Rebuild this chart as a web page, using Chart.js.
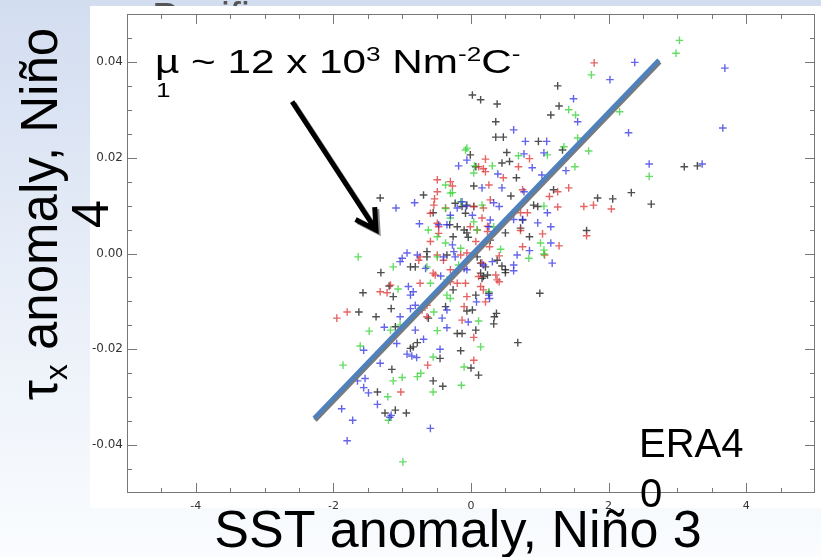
<!DOCTYPE html>
<html>
<head>
<meta charset="utf-8">
<script src="https://cdn.jsdelivr.net/npm/chart.js@4.4.0/dist/chart.umd.min.js"></script>
<style>
  html, body { margin: 0; padding: 0; background: #fff; }
</style>
</head>
<body>
<canvas id="chart" width="821" height="557"></canvas>
<script>
// axis ticks
const xTicks = [-4, -2, 0, 2, 4];
const yTicks = [-0.04, -0.02, 0.00, 0.02, 0.04];

// [SST anomaly, tau_x anomaly] pairs, one list per colour
const blackPts = [
  [0.02,0.0331],[0.14,0.0321],[0.38,0.0312],[0.36,0.0275],[0.36,0.0243],[0.47,0.0243],[-0.01,0.0206],[0.04,0.0141],
  [-1.32,0.0116],[-0.69,0.0122],[-0.55,0.0085],[-0.13,0.0098],[0.04,0.0098],[-0.20,0.0056],[-0.06,0.0043],[-0.04,0.0034],
  [-0.26,0.0035],[-0.35,-0.0003],[1.26,0.0350],[1.28,0.0308],[1.16,0.0289],[0.98,0.0234],[1.33,0.0216],[0.52,0.0211],
  [0.45,0.0189],[0.56,0.0192],[3.10,0.0181],[3.29,0.0183],[0.66,0.0158],[0.58,0.0120],[1.20,0.0133],[1.84,0.0116],
  [2.06,0.0114],[2.33,0.0127],[2.62,0.0103],[0.91,0.0101],[0.97,0.0098],[0.72,0.0053],[0.85,0.0035],[1.68,0.0048],
  [0.50,0.0043],[-0.88,-0.0028],[-0.81,-0.0028],[-0.64,-0.0007],[-1.31,-0.0040],[-1.57,-0.0082],[-1.19,-0.0068],[-1.13,-0.0090],
  [-0.26,-0.0076],[0.14,-0.0041],[0.24,-0.0045],[0.21,-0.0028],[-1.63,-0.0122],[-1.38,-0.0132],[-1.16,-0.0115],[-0.62,-0.0135],
  [-0.06,-0.0120],[0.02,-0.0118],[0.34,-0.0132],[0.33,-0.0147],[-1.10,-0.0153],[-0.20,-0.0167],[-0.13,-0.0167],[0.07,-0.0160],
  [-0.78,-0.0186],[-0.84,-0.0195],[-0.88,-0.0198],[-0.45,-0.0219],[-0.15,-0.0203],[-1.15,-0.0242],[-0.55,-0.0266],[-0.41,-0.0277],
  [0.00,-0.0239],[0.11,-0.0254],[-1.36,-0.0289],[-1.25,-0.0333],[-1.10,-0.0327],[-0.94,-0.0333],[0.45,-0.0026],[0.50,-0.0040],
  [0.18,-0.0048],[1.00,-0.0083],[0.26,-0.0083],[0.37,-0.0125],[0.68,-0.0186],[0.07,0.0181],[-0.23,0.0105],[-0.08,0.0084],
  [0.28,0.0028],[-0.64,0.0004],[0.14,-0.0020],[-0.06,0.0101],[-0.31,0.0060],[-0.10,0.0049],[0.75,0.0070],[0.09,-0.0007],
  [0.38,-0.0014],[0.50,-0.0034],[0.16,-0.0052],[0.07,-0.0087],[-0.37,-0.0111]
];
const redPts = [
  [0.21,0.0197],[0.18,0.0177],[-0.49,0.0154],[-0.27,0.0141],[0.26,0.0143],[-0.53,0.0114],[-0.37,0.0095],[0.18,0.0095],
  [-0.47,0.0056],[-0.01,0.0056],[0.24,0.0057],[-0.59,0.0025],[0.07,0.0025],[-0.49,-0.0003],[-0.06,0.0001],[1.79,0.0398],
  [0.85,0.0198],[0.69,0.0181],[0.47,0.0158],[0.75,0.0133],[1.26,0.0129],[1.42,0.0137],[1.14,0.0119],[2.04,0.0093],
  [1.64,0.0098],[1.78,0.0101],[1.26,0.0097],[0.72,0.0085],[0.82,0.0085],[0.72,0.0048],[1.04,0.0041],[1.68,0.0037],
  [1.28,0.0016],[0.27,0.0014],[-0.74,-0.0007],[-0.15,-0.0003],[-1.17,-0.0066],[-1.32,-0.0080],[-1.22,-0.0082],[-0.74,-0.0062],
  [-0.55,-0.0041],[-0.30,-0.0059],[-0.20,-0.0062],[-0.08,-0.0062],[-0.06,-0.0090],[0.14,-0.0069],[0.36,-0.0045],[-1.80,-0.0122],
  [-1.95,-0.0135],[-0.71,-0.0118],[-0.64,-0.0132],[-0.13,-0.0139],[0.04,-0.0175],[0.04,-0.0223],[-0.63,-0.0233],[-1.02,-0.0289],
  [1.07,-0.0003],[0.41,-0.0005],[0.41,-0.0059],[0.18,-0.0076],[0.21,-0.0101],[0.11,0.0181],[0.21,0.0171],[-0.49,0.0129],
  [-0.30,0.0150],[-0.54,0.0101],[0.04,0.0098],[0.28,0.0112],[-0.59,0.0084],[-0.49,0.0063],[0.09,0.0049],[-0.76,-0.0014],
  [-0.40,-0.0014],[0.04,0.0000],[-0.30,-0.0034],[0.16,0.0074],[0.24,0.0046],[-0.47,0.0042],[-0.52,-0.0045],[0.16,-0.0020],
  [0.38,-0.0055],[0.11,-0.0048],[-0.10,-0.0111],[-0.64,-0.0108],[0.75,0.0014]
];
const greenPts = [
  [-0.08,0.0216],[0.05,0.0183],[0.31,0.0183],[-0.37,0.0143],[-0.27,0.0127],[-0.62,0.0049],[0.04,0.0066],[0.09,0.0049],
  [-0.49,0.0035],[-0.37,0.0022],[-0.15,0.0011],[-1.64,-0.0007],[3.03,0.0445],[2.98,0.0418],[1.75,0.0373],[1.42,0.0300],
  [1.52,0.0289],[2.16,0.0296],[1.55,0.0241],[1.35,0.0223],[1.71,0.0214],[1.11,0.0206],[0.69,0.0204],[1.51,0.0181],
  [2.59,0.0161],[1.06,0.0099],[1.01,0.0022],[0.43,0.0009],[1.06,-0.0001],[-1.06,-0.0074],[-0.59,-0.0062],[-0.35,-0.0087],
  [0.26,-0.0080],[0.11,-0.0141],[-1.48,-0.0162],[-1.17,-0.0160],[-1.03,-0.0149],[-0.49,-0.0161],[0.14,-0.0195],[-1.61,-0.0193],
  [-0.55,-0.0216],[-1.86,-0.0233],[-1.00,-0.0259],[-0.78,-0.0257],[-0.73,-0.0250],[-0.10,-0.0237],[-0.14,-0.0275],[-1.13,-0.0266],
  [-0.55,-0.0289],[-1.21,-0.0299],[-1.20,-0.0348],[-0.99,-0.0435],[0.84,-0.0010],[1.06,0.0007],[-0.06,0.0220],[0.04,0.0168],
  [-0.30,0.0126],[-0.37,0.0094],[0.16,0.0101],[-0.30,0.0074],[-1.13,-0.0028],[-0.49,-0.0007],[-0.64,-0.0028],[-0.15,0.0108],
  [0.33,0.0056],[-0.18,-0.0024],[-0.35,-0.0055],[-0.30,-0.0094],[-0.54,-0.0122]
];
const bluePts = [
  [-0.06,0.0195],[-0.18,0.0183],[0.16,0.0137],[-1.09,0.0095],[-0.82,0.0106],[-0.30,0.0080],[-0.20,0.0095],[-0.07,0.0099],
  [0.33,0.0106],[-0.75,0.0062],[-0.35,0.0060],[-0.27,0.0018],[-0.93,0.0001],[-0.78,-0.0003],[-0.40,-0.0007],[2.02,0.0363],
  [1.49,0.0323],[1.55,0.0275],[0.62,0.0258],[2.29,0.0252],[0.79,0.0234],[1.10,0.0234],[1.06,0.0210],[0.77,0.0208],
  [0.89,0.0179],[0.39,0.0166],[1.38,0.0173],[2.59,0.0187],[3.36,0.0187],[1.03,0.0164],[0.45,0.0137],[0.77,0.0129],
  [1.11,0.0085],[0.62,0.0071],[0.75,0.0071],[0.97,0.0064],[1.16,0.0056],[1.16,0.0022],[0.85,0.0006],[2.38,0.0399],
  [3.69,0.0387],[3.66,0.0262],[-1.03,-0.0017],[0.31,-0.0017],[-0.91,-0.0069],[-0.84,-0.0080],[-0.88,-0.0087],[-0.44,-0.0047],
  [-0.88,-0.0115],[-0.81,-0.0108],[-1.03,-0.0132],[-0.42,-0.0135],[-0.35,-0.0118],[0.08,-0.0101],[-0.04,-0.0143],[-1.26,-0.0154],
  [-0.81,-0.0160],[-0.69,-0.0179],[-0.35,-0.0155],[-1.56,-0.0202],[-1.32,-0.0229],[-1.08,-0.0188],[-0.93,-0.0210],[-0.86,-0.0214],
  [-0.79,-0.0217],[-0.45,-0.0200],[-1.65,-0.0266],[-1.56,-0.0280],[-1.49,-0.0291],[-1.54,-0.0261],[-1.36,-0.0315],[-1.16,-0.0338],
  [-1.18,-0.0342],[-1.88,-0.0324],[-1.72,-0.0348],[-0.59,-0.0365],[-1.80,-0.0391],[1.18,-0.0020],[0.18,-0.0024],[0.62,-0.0024],
  [0.62,-0.0036],[0.27,-0.0094],[-0.13,0.0108],[0.41,0.0098],[0.26,0.0056],[-1.00,-0.0010],[-0.23,-0.0007],[-0.10,-0.0031],
  [-0.47,0.0060],[0.02,0.0080],[0.28,0.0070],[-0.25,0.0004],[-0.66,-0.0031],[-0.06,-0.0034],[0.26,-0.0087],[0.67,-0.0003]
];

// regression line end points and the arrow (data units)
const fitLine = [[-2.28, -0.0344], [2.73, 0.0404]];
const arrowFrom = [-2.60, 0.0317];
const arrowTo = [-1.38, 0.0049];

const FONT = '"Liberation Sans", Arial, Helvetica, sans-serif';
const toXY = arr => arr.map(([x, y]) => ({ x, y }));

function drawRuns(ctx, x, y, size, runs, measureOnly) {
  for (const r of runs) {
    const s = (r.sup || r.sub) ? size * 0.62 : size;
    ctx.font = s + 'px ' + FONT;
    const dy = r.sup ? -size * 0.36 : (r.sub ? size * 0.2 : 0);
    if (!measureOnly) ctx.fillText(r.t, x, y + dy);
    x += ctx.measureText(r.t).width;
  }
  return x;
}

// background, cut-off slide title and white figure panel
const slidePlugin = {
  id: 'slide',
  beforeDraw(chart) {
    const ctx = chart.ctx, w = chart.width, h = chart.height;
    ctx.save();
    const g = ctx.createLinearGradient(0, 0, 0, h);
    g.addColorStop(0, '#d2ddf0');
    g.addColorStop(0.5, '#e8eef8');
    g.addColorStop(1, '#fafcfe');
    ctx.fillStyle = g;
    ctx.fillRect(0, 0, w, h);
    ctx.fillStyle = '#555';
    ctx.font = '40px ' + FONT;
    ctx.fillText('Pacific', 152, 31);
    ctx.fillStyle = '#fff';
    ctx.fillRect(90, 6, w - 90, 502);
    ctx.restore();
  },
  afterDraw(chart) {
    const ctx = chart.ctx, a = chart.chartArea;
    const xs = chart.scales.x, ys = chart.scales.y;
    ctx.save();
    // frame with inward ticks on all sides
    ctx.strokeStyle = '#777';
    ctx.lineWidth = 1;
    ctx.strokeRect(a.left + 0.5, a.top + 0.5, a.right - a.left - 1, a.bottom - a.top - 1);
    ctx.beginPath();
    for (let i = -9; i <= 9; i++) {
      const p = Math.round(xs.getPixelForValue(i * 0.5)) + 0.5;
      const len = i % 4 === 0 ? 10 : 5;
      ctx.moveTo(p, a.bottom); ctx.lineTo(p, a.bottom - len);
      ctx.moveTo(p, a.top); ctx.lineTo(p, a.top + len);
    }
    for (let i = -9; i <= 9; i++) {
      const p = Math.round(ys.getPixelForValue(i * 0.005)) + 0.5;
      const len = i % 4 === 0 ? 10 : 5;
      ctx.moveTo(a.left, p); ctx.lineTo(a.left + len, p);
      ctx.moveTo(a.right, p); ctx.lineTo(a.right - len, p);
    }
    ctx.stroke();

    // arrow
    const x0 = xs.getPixelForValue(arrowFrom[0]), y0 = ys.getPixelForValue(arrowFrom[1]);
    const x1 = xs.getPixelForValue(arrowTo[0]), y1 = ys.getPixelForValue(arrowTo[1]);
    const ang = Math.atan2(y1 - y0, x1 - x0);
    const back = ang + Math.PI;
    ctx.shadowColor = '#8a8a8a';
    ctx.shadowOffsetX = 2;
    ctx.shadowOffsetY = 2;
    ctx.strokeStyle = '#000';
    ctx.lineWidth = 5;
    ctx.lineCap = 'butt';
    ctx.lineJoin = 'miter';
    ctx.beginPath();
    ctx.moveTo(x0, y0); ctx.lineTo(x1, y1);
    ctx.moveTo(x1 + Math.cos(back - 0.52) * 23, y1 + Math.sin(back - 0.52) * 23);
    ctx.lineTo(x1, y1);
    ctx.lineTo(x1 + Math.cos(back + 0.52) * 23, y1 + Math.sin(back + 0.52) * 23);
    ctx.stroke();
    ctx.shadowColor = 'transparent';

    ctx.fillStyle = '#000';
    ctx.textBaseline = 'alphabetic';
    ctx.textAlign = 'left';

    // mu annotation (horizontally stretched like the source)
    ctx.save();
    ctx.translate(155, 73);
    ctx.scale(1.28, 1);
    drawRuns(ctx, 0, 0, 33, [
      { t: 'µ ~ 12 x 10' }, { t: '3', sup: true }, { t: ' Nm' }, { t: '-2', sup: true },
      { t: 'C' }, { t: '-', sup: true }
    ]);
    ctx.font = '20px ' + FONT;
    ctx.fillText('1', 1, 24);
    ctx.restore();

    // y title, rotated, two lines
    ctx.save();
    ctx.translate(57, 214);
    ctx.rotate(-Math.PI / 2);
    const yRuns = [{ t: 'τ' }, { t: 'x', sub: true }, { t: ' anomaly, Niño' }];
    const wy = drawRuns(ctx, 0, 0, 51, yRuns, true);
    drawRuns(ctx, -wy / 2, 0, 51, yRuns);
    ctx.font = '51px ' + FONT;
    ctx.textAlign = 'center';
    ctx.fillText('4', 0, 51);
    ctx.restore();

    // x title
    ctx.font = '52px ' + FONT;
    ctx.textAlign = 'center';
    ctx.fillText('SST anomaly, Niño 3', 458, 547);

    // ERA40 label, wrapped
    ctx.font = '40px ' + FONT;
    ctx.textAlign = 'left';
    ctx.fillText('ERA4', 639, 457);
    ctx.fillText('0', 640, 507);
    ctx.restore();
  }
};

// drop shadow under the regression line
const shadowPlugin = {
  id: 'lineShadow',
  beforeDatasetDraw(chart, args) {
    if (args.meta.type !== 'line') return;
    const ctx = chart.ctx;
    ctx.save();
    ctx.shadowColor = '#7a7a7a';
    ctx.shadowOffsetX = 1;
    ctx.shadowOffsetY = 2;
    ctx.shadowBlur = 0;
  },
  afterDatasetDraw(chart, args) {
    if (args.meta.type !== 'line') return;
    chart.ctx.restore();
  }
};

const pointSet = (data, color, order) => ({
  type: 'scatter',
  data: toXY(data),
  pointStyle: 'cross',
  pointRadius: 3.8,
  pointBorderWidth: 1.4,
  borderColor: color,
  backgroundColor: color,
  order
});

new Chart(document.getElementById('chart'), {
  data: {
    datasets: [
      {
        type: 'line',
        data: toXY(fitLine),
        borderColor: '#4f81bd',
        borderWidth: 4.5,
        pointRadius: 0,
        fill: false,
        order: 0
      },
      pointSet(bluePts, 'rgba(50,50,225,0.75)', 1),
      pointSet(greenPts, 'rgba(50,210,50,0.75)', 2),
      pointSet(redPts, 'rgba(220,50,50,0.75)', 3),
      pointSet(blackPts, 'rgba(35,35,35,0.8)', 4)
    ]
  },
  options: {
    responsive: false,
    animation: false,
    layout: { padding: { left: 90, right: 6, top: 14, bottom: 44 } },
    plugins: { legend: { display: false }, tooltip: { enabled: false } },
    scales: {
      x: {
        type: 'linear',
        min: -5,
        max: 5,
        grid: { display: false, drawTicks: false },
        border: { display: false },
        afterBuildTicks: s => { s.ticks = xTicks.map(v => ({ value: v })); },
        afterFit: s => { s.height = 20; },
        ticks: {
          padding: 7,
          color: '#333',
          font: { family: '"DejaVu Sans", sans-serif', size: 11 },
          maxRotation: 0
        }
      },
      y: {
        type: 'linear',
        min: -0.05,
        max: 0.05,
        grid: { display: false, drawTicks: false },
        border: { display: false },
        afterBuildTicks: s => { s.ticks = yTicks.map(v => ({ value: v })); },
        afterFit: s => { s.width = 37; },
        ticks: {
          padding: 4,
          color: '#333',
          font: { family: '"DejaVu Sans", sans-serif', size: 12 },
          callback: v => v.toFixed(2)
        }
      }
    }
  },
  plugins: [slidePlugin, shadowPlugin]
});
</script>
</body>
</html>
